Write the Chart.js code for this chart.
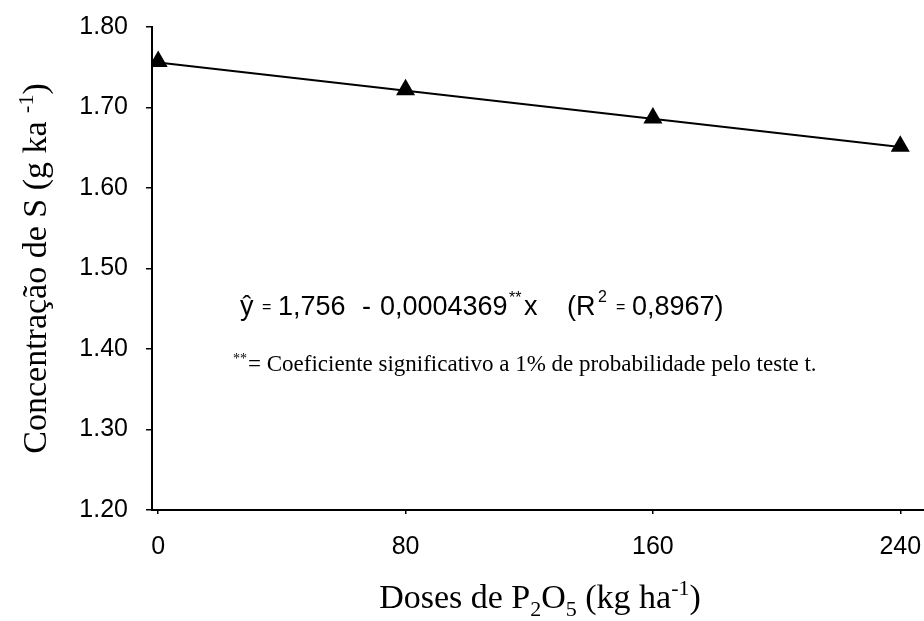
<!DOCTYPE html>
<html>
<head>
<meta charset="utf-8">
<script src="https://cdn.jsdelivr.net/npm/chart.js@4.4.1/dist/chart.umd.min.js"></script>
<style>
  html, body { margin: 0; padding: 0; background: #fff; overflow: hidden; }
  /* a bit wider than the window so the x axis runs to the right edge */
  #wrap { position: relative; width: 936px; height: 621px; }
  canvas { display: block; }
</style>
</head>
<body>
<div id="wrap"><canvas id="sulfurChart"></canvas></div>
<script>
// doses of P2O5 (kg/ha) and measured S concentration
const doses = [0, 80, 160, 240];
const sulfur = [1.757, 1.722, 1.687, 1.652];

// fitted regression line end points
const fitDoses = [0, 240];
const fitSulfur = [1.756, 1.651];

const xTickValues = [0, 80, 160, 240];

const serif = "'Liberation Serif', 'Times New Roman', serif";
const sans = "'Liberation Sans', Arial, sans-serif";

// draws a sequence of text pieces, each with its own font and vertical shift
function drawRuns(ctx, runs, x, y) {
  let cx = x;
  runs.forEach((r) => {
    ctx.font = r.font;
    ctx.fillText(r.text, cx, y + (r.dy || 0));
    cx += ctx.measureText(r.text).width;
  });
  return cx;
}

function runsWidth(ctx, runs) {
  let w = 0;
  runs.forEach((r) => {
    ctx.font = r.font;
    w += ctx.measureText(r.text).width;
  });
  return w;
}

// keep the axis boxes from reserving room for tick label overhang
function noOverhang(scale) {
  scale.paddingLeft = 0;
  scale.paddingRight = 0;
  scale.paddingTop = 0;
  scale.paddingBottom = 0;
}

const labelsPlugin = {
  id: "labels",
  afterDraw(chart) {
    const ctx = chart.ctx;
    const area = chart.chartArea;
    ctx.save();
    ctx.fillStyle = "#000";
    ctx.textBaseline = "alphabetic";
    ctx.textAlign = "left";

    // regression equation, each piece at its own x
    const big = "27px " + sans;
    const small = "16px " + sans;
    const eqY = 315;
    [
      ["\u0177", big, 240, 0],
      ["=", small, 262, -3],
      ["1,756", big, 278, 0],
      ["-", big, 362, 0],
      ["0,0004369", big, 380, 0],
      ["**", small, 509, -12],
      ["x", big, 524, 0],
      ["(R", big, 567, 0],
      ["2", small, 598, -13],
      ["=", small, 616, -3],
      ["0,8967)", big, 632, 0],
    ].forEach(([t, f, px, dy]) => {
      ctx.font = f;
      ctx.fillText(t, px, eqY + dy);
    });

    // footnote for the coefficient
    ctx.font = "14px " + serif;
    ctx.fillText("**", 233, 363);
    ctx.font = "23px " + serif;
    ctx.fillText("= Coeficiente significativo a 1% de probabilidade pelo teste t.", 248, 371);

    // x axis title with sub/superscripts
    const tf = "34px " + serif;
    const sf = "22px " + serif;
    const xRuns = [
      { text: "Doses de P", font: tf },
      { text: "2", font: sf, dy: 8 },
      { text: "O", font: tf },
      { text: "5", font: sf, dy: 8 },
      { text: " (kg ha", font: tf },
      { text: "-1", font: sf, dy: -13 },
      { text: ")", font: tf },
    ];
    const xw = runsWidth(ctx, xRuns);
    drawRuns(ctx, xRuns, 540 - xw / 2, 608);

    // y axis title, rotated
    const yRuns = [
      { text: "Concentra\u00e7\u00e3o de S (g ka ", font: tf },
      { text: "-1", font: sf, dy: -13 },
      { text: ")", font: tf },
    ];
    const yw = runsWidth(ctx, yRuns);
    ctx.translate(46, (area.top + area.bottom) / 2);
    ctx.rotate(-Math.PI / 2);
    drawRuns(ctx, yRuns, -yw / 2, 0);
    ctx.restore();
  },
};

const ctx = document.getElementById("sulfurChart");
new Chart(ctx, {
  type: "scatter",
  data: {
    datasets: [
      {
        label: "S",
        data: doses.map((d, i) => ({ x: d, y: sulfur[i] })),
        pointStyle: "triangle",
        pointRadius: 11,
        pointBackgroundColor: "#000",
        pointBorderColor: "#000",
        pointBorderWidth: 0,
        showLine: false,
        order: 0,
      },
      {
        label: "fit",
        data: fitDoses.map((d, i) => ({ x: d, y: fitSulfur[i] })),
        showLine: true,
        borderColor: "#000",
        borderWidth: 2,
        pointRadius: 0,
        order: 1,
      },
    ],
  },
  options: {
    responsive: true,
    maintainAspectRatio: false,
    animation: false,
    layout: { padding: { left: 0, top: 27, right: 0, bottom: 0 } },
    plugins: {
      legend: { display: false },
      tooltip: { enabled: false },
    },
    scales: {
      x: {
        type: "linear",
        min: -2,
        max: 248,
        afterBuildTicks: (scale) => {
          scale.ticks = xTickValues.map((v) => ({ value: v }));
        },
        afterFit: (scale) => {
          scale.height = 111;
          noOverhang(scale);
        },
        border: { display: true, color: "#000", width: 2 },
        grid: {
          drawOnChartArea: false,
          drawTicks: true,
          tickLength: 4,
          color: "#000",
          lineWidth: 1.5,
        },
        ticks: {
          color: "#000",
          padding: 18,
          maxRotation: 0,
          font: { family: sans, size: 25 },
        },
      },
      y: {
        min: 1.2,
        max: 1.8,
        afterFit: (scale) => {
          scale.width = 152;
          noOverhang(scale);
        },
        border: { display: true, color: "#000", width: 2 },
        grid: {
          drawOnChartArea: false,
          drawTicks: true,
          tickLength: 6,
          color: "#000",
          lineWidth: 1.5,
        },
        ticks: {
          stepSize: 0.1,
          color: "#000",
          padding: 18,
          font: { family: sans, size: 25 },
          callback: (value) => value.toFixed(2),
        },
      },
    },
  },
  plugins: [labelsPlugin],
});
</script>
</body>
</html>
